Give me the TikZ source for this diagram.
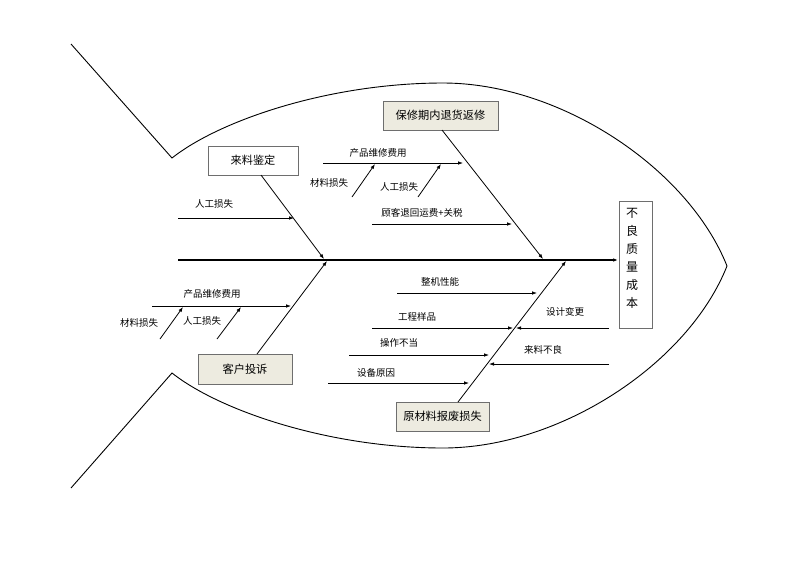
\documentclass[tikz,border=0pt]{standalone}
\usepackage{fontspec}
\setmainfont{Noto Sans CJK SC}
\usetikzlibrary{arrows.meta}
\definecolor{beige}{HTML}{EDEBE0}
\definecolor{boxgray}{HTML}{6E6E6E}
\begin{document}
\begin{tikzpicture}[x=1pt,y=-1pt,
  every node/.style={inner sep=0pt},
  catbox/.style={draw=boxgray, line width=0.7pt, fill=beige, font=\fontsize{11.2}{13}\selectfont},
  plainbox/.style={draw=boxgray, line width=0.7pt, fill=white, font=\fontsize{11.2}{13}\selectfont},
  lbl/.style={font=\fontsize{9.5}{11}\selectfont},
  arr/.style={-{Latex[length=5pt,width=3.6pt]}, line width=0.8pt},
  outline/.style={line width=0.9pt}]
\useasboundingbox (0,0) rectangle (800,566);
\fill[white] (0,0) rectangle (800,566);

% fish outline
\coordinate (tailtop) at (71,44);
\coordinate (vtop) at (172,158);
\coordinate (toppt) at (443,83);
\coordinate (nose) at (727,266);
\coordinate (botpt) at (443,448);
\coordinate (vbot) at (172,373);
\coordinate (tailbot) at (71,488);
\draw[outline, line join=miter] (tailtop) -- (vtop)
  .. controls (220,120) and (330,83) .. (toppt)
  .. controls (560,83) and (688,168) .. (nose)
  .. controls (688,364) and (560,448) .. (botpt)
  .. controls (330,448) and (220,411) .. (vbot) -- (tailbot);

% boxes
\node[plainbox, minimum width=90pt, minimum height=29pt] (b1) at (253,160.5) {来料鉴定};
\node[catbox, minimum width=115pt, minimum height=29pt] (b2) at (440.5,115.5) {保修期内退货返修};
\node[catbox, minimum width=94pt, minimum height=30pt] (b3) at (245,369) {客户投诉};
\node[catbox, minimum width=93pt, minimum height=29pt] (b4) at (442.5,416.5) {原材料报废损失};
\node[plainbox, minimum width=33pt, minimum height=127pt] (head) at (635.5,264.5) {};
\node[font=\fontsize{12}{18}\selectfont, align=center] (headtxt) at (632,258) {不\\良\\质\\量\\成\\本};

% spine
\coordinate (spineL) at (178,260);
\coordinate (spineR) at (618,260);
\draw[arr, line width=1.2pt] (spineL) -- (spineR);

% main bones
\coordinate (b1s) at (261,175);
\coordinate (b1e) at (324,259);
\draw[arr] (b1s) -- (b1e);
\coordinate (b2s) at (442,130);
\coordinate (b2e) at (543,259);
\draw[arr] (b2s) -- (b2e);
\coordinate (b3s) at (257,354);
\coordinate (b3e) at (327,261);
\draw[arr] (b3s) -- (b3e);
\coordinate (b4s) at (458,402);
\coordinate (b4e) at (566,261);
\draw[arr] (b4s) -- (b4e);

% upper left: 人工损失
\coordinate (a1s) at (178,218);
\coordinate (a1e) at (294,218);
\draw[arr] (a1s) -- (a1e);
\node[lbl] (l1) at (214,204) {人工损失};

% upper middle
\coordinate (a2s) at (323,163);
\coordinate (a2e) at (463,163);
\draw[arr] (a2s) -- (a2e);
\node[lbl] (l2) at (378,153) {产品维修费用};
\coordinate (a3s) at (352,197);
\coordinate (a3e) at (375,164);
\draw[arr] (a3s) -- (a3e);
\node[lbl] (l3) at (329,182.5) {材料损失};
\coordinate (a4s) at (418,197);
\coordinate (a4e) at (441,164);
\draw[arr] (a4s) -- (a4e);
\node[lbl] (l4) at (399,186.5) {人工损失};
\coordinate (a5s) at (372,224);
\coordinate (a5e) at (512,224);
\draw[arr] (a5s) -- (a5e);
\node[lbl] (l5) at (422,213) {顾客退回运费+关税};

% lower left
\coordinate (c1s) at (152,306);
\coordinate (c1e) at (291,306);
\draw[arr] (c1s) -- (c1e);
\node[lbl] (m1) at (212,294) {产品维修费用};
\coordinate (c2s) at (160,339);
\coordinate (c2e) at (183,307);
\draw[arr] (c2s) -- (c2e);
\node[lbl] (m2) at (139,322.5) {材料损失};
\coordinate (c3s) at (217,339);
\coordinate (c3e) at (241,307);
\draw[arr] (c3s) -- (c3e);
\node[lbl] (m3) at (202,321) {人工损失};

% lower right
\coordinate (d1s) at (397,293);
\coordinate (d1e) at (537,293);
\draw[arr] (d1s) -- (d1e);
\node[lbl] (n1) at (440,282) {整机性能};
\coordinate (d2s) at (372,328);
\coordinate (d2e) at (513,328);
\draw[arr] (d2s) -- (d2e);
\node[lbl] (n2) at (417,317) {工程样品};
\coordinate (d3s) at (609,328);
\coordinate (d3e) at (516,328);
\draw[arr] (d3s) -- (d3e);
\node[lbl] (n3) at (565,311.5) {设计变更};
\coordinate (d4s) at (349,355);
\coordinate (d4e) at (489,355);
\draw[arr] (d4s) -- (d4e);
\node[lbl] (n4) at (399,343) {操作不当};
\coordinate (d5s) at (609,364);
\coordinate (d5e) at (489,364);
\draw[arr] (d5s) -- (d5e);
\node[lbl] (n5) at (543,350) {来料不良};
\coordinate (d6s) at (328,383);
\coordinate (d6e) at (469,383);
\draw[arr] (d6s) -- (d6e);
\node[lbl] (n6) at (376,372.5) {设备原因};
\end{tikzpicture}
\end{document}
